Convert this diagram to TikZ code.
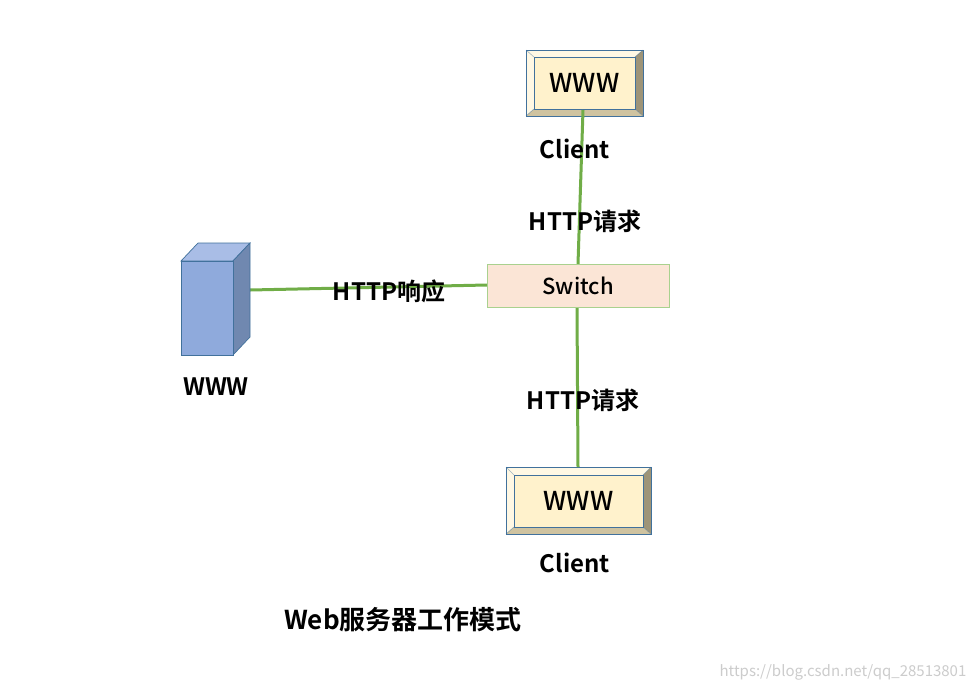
\documentclass[tikz,border=0pt]{standalone}
\usepackage{fontspec}
\setmainfont{Noto Sans CJK SC}[BoldFont={Noto Sans CJK SC Bold}]
\newfontfamily\medf{Noto Sans CJK SC Medium}
\begin{document}
\begin{tikzpicture}[x=1pt,y=-1pt,
  lbl/.style={font=\fontsize{24}{26}\selectfont\bfseries,inner sep=0},
  link/.style={line width=3pt,draw={rgb,255:red,112;green,173;blue,71}},
  bevel/.style={draw={rgb,255:red,65;green,113;blue,156},line width=0.6pt}]
\useasboundingbox (0,0) rectangle (972,691);
\fill[white] (0,0) rectangle (972,691);
\definecolor{bt}{RGB}{255,248,228}
\definecolor{bf}{RGB}{255,242,204}
\definecolor{br}{RGB}{158,148,120}
\definecolor{bb}{RGB}{207,195,160}
\newcommand{\bevelbox}[9]{% x1 y1 x2 y2 ix1 iy1 ix2 iy2 name
  \fill[bt] (#1,#2) -- (#3,#2) -- (#7,#6) -- (#5,#6) -- cycle;
  \fill[bt] (#1,#2) -- (#5,#6) -- (#5,#8) -- (#1,#4) -- cycle;
  \fill[br] (#3,#2) -- (#3,#4) -- (#7,#8) -- (#7,#6) -- cycle;
  \fill[bb] (#1,#4) -- (#3,#4) -- (#7,#8) -- (#5,#8) -- cycle;
  \draw[bevel,fill=bf] (#5,#6) rectangle (#7,#8);
  \draw[bevel,draw opacity=0.5] (#1,#2)--(#5,#6) (#3,#2)--(#7,#6) (#1,#4)--(#5,#8) (#3,#4)--(#7,#8);
  \draw[bevel] (#1,#2) rectangle (#3,#4);
  \node[font=\fontsize{26}{28}\selectfont\medf,inner sep=0] (#9) at ({(#1+#3)/2},{(#2+#4)/2}) {WWW};}
\coordinate (c1b) at (583,110);
\coordinate (swt) at (578,264);
\coordinate (swb) at (577,307);
\coordinate (c2t) at (578,467);
\coordinate (srv) at (250,290);
\coordinate (swl) at (487,285);
\bevelbox{526}{50}{643}{116}{534}{57}{635}{109}{c1}
\bevelbox{506}{467}{651}{534}{514}{475}{643}{527}{c2}
\draw[link] (c1b) -- (swt);
\draw[link] (swb) -- (c2t);
\draw[link] (srv) -- (swl);
\node[draw={rgb,255:red,169;green,209;blue,142},fill={rgb,255:red,251;green,229;blue,214},minimum width=182pt,minimum height=43pt,anchor=north west,font=\fontsize{22}{24}\selectfont\medf,inner sep=0] (sw) at (487,264) {Switch};
\begin{scope}[draw={rgb,255:red,65;green,113;blue,156},line width=0.7pt]
\filldraw[fill={rgb,255:red,169;green,189;blue,230}] (181,261) -- (198,243) -- (250,243) -- (233,261) -- cycle;
\filldraw[fill={rgb,255:red,112;green,136;blue,176}] (233,261) -- (250,243) -- (250,337) -- (233,355) -- cycle;
\filldraw[fill={rgb,255:red,143;green,170;blue,220}] (181,261) rectangle (233,355);
\end{scope}
\node[lbl] (t1) at (575,149) {Client};
\node[lbl] (t2) at (585,221) {HTTP请求};
\node[lbl] (t3) at (389,291) {HTTP响应};
\node[lbl] (t4) at (216,387) {WWW};
\node[lbl] (t5) at (583,400) {HTTP请求};
\node[lbl] (t6) at (575,563) {Client};
\node[lbl,font=\fontsize{26}{28}\selectfont\bfseries] (t7) at (403,620) {Web服务器工作模式};
\node[font=\fontsize{15}{16}\selectfont,text=black!20,inner sep=0] (wm) at (843,672) {https://blog.csdn.net/qq\_28513801};
\end{tikzpicture}
\end{document}
